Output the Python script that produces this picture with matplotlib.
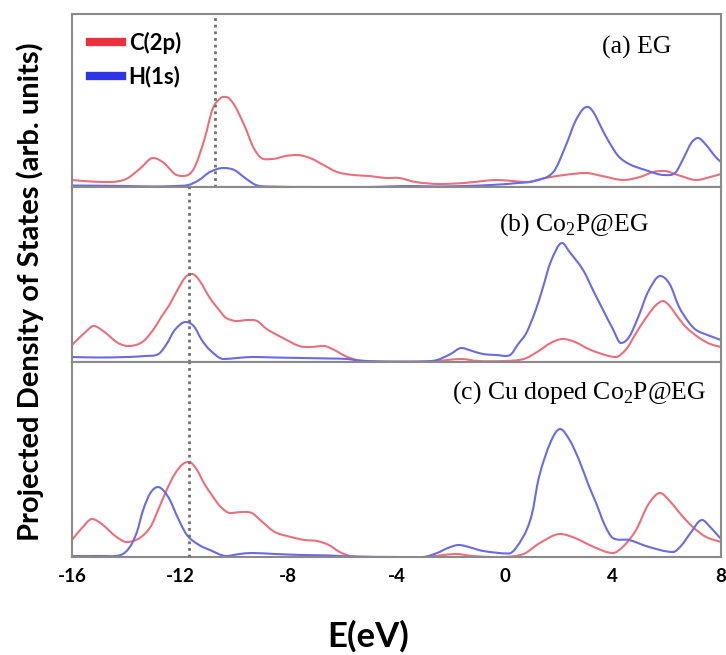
import matplotlib
matplotlib.use("Agg")
import matplotlib.pyplot as plt
from matplotlib.lines import Line2D
from matplotlib.path import Path
from matplotlib.patches import PathPatch

plt.rcParams["mathtext.fontset"] = "custom"
plt.rcParams["mathtext.rm"] = "Liberation Serif"

# ---- data: energy (eV) and projected DOS (arb. units) ----
x_range = (-16, 8)
x_ticks = [-16, -12, -8, -4, 0, 4, 8]

# (a) EG
eg_c_e = [-16, -15.3, -14.6, -14, -13.5, -13, -12.6, -12.2, -11.9, -11.5, -11.1, -10.8, -10.5, -10.3,
          -10.0, -9.6, -9.3, -9.0, -8.6, -8.1, -7.7, -7.2, -6.7, -6.2, -5.6, -5.0, -4.4, -3.9, -3.3,
          -2.4, -1.5, -0.8, -0.3, 0.3, 0.8, 1.5, 2.2, 3.0, 3.6, 4.4, 5.0, 5.5, 5.9, 6.4, 7.1, 7.6, 8]
eg_c_d = [7, 5.5, 5, 8, 18, 29, 24, 13, 11, 18, 48, 78, 89, 90,
          82, 60, 40, 29, 28, 31, 32, 29, 22, 15, 12, 11, 9, 9, 5,
          3, 4, 6, 7, 6, 5, 9, 12, 14, 11, 7, 10, 15, 16, 12, 7, 10, 13]
eg_h_e = [-16, -14, -13, -12.2, -11.7, -11.3, -10.9, -10.4, -10.0, -9.6, -9.2, -8.8, -7, -5, -3.5,
          -2.5, -1.5, -0.5, 0.5, 1.1, 1.8, 2.27, 2.6, 2.9, 3.08, 3.3, 3.6, 3.86, 4.2, 4.6, 5.2, 5.9,
          6.3, 6.6, 6.9, 7.15, 7.45, 7.8, 8]
eg_h_d = [1.5, 1, 0.5, 1, 2, 7, 15, 19, 17, 9, 2, 0.5, 0, 0, 1,
          0.5, 1, 2, 4, 6, 15, 42, 65, 78, 80, 74, 58, 45, 31, 23, 17, 12,
          14, 28, 44, 49, 42, 30, 25]

# (b) Co2P@EG
co_c_e = [-16, -15.5, -15.2, -14.8, -14.3, -13.9, -13.4, -13.0, -12.7, -12.4, -12.1, -11.8, -11.56,
          -11.3, -10.9, -10.5, -10.3, -9.9, -9.5, -9.16, -8.8, -8.2, -7.6, -7.2, -6.7, -6.3, -5.9,
          -5.46, -5, -3, -2.5, -1.6, -1, 0, 0.7, 1.2, 1.7, 2.15, 2.6, 3.1, 3.6, 4.1, 4.5, 4.86, 5.3,
          5.6, 5.86, 6.1, 6.4, 6.7, 7.2, 7.6, 8]
co_c_d = [17, 30, 36, 30, 19, 16, 20, 32, 45, 57, 72, 85, 88,
          82, 64, 50, 44, 41, 42, 41, 33, 24, 16, 15, 16, 12, 6,
          2, 0.5, 0.5, 1, 3, 1, 1, 3, 10, 19, 23, 20, 13, 8, 5, 13, 29, 47,
          57, 61, 56, 45, 35, 24, 18, 15]
co_h_e = [-16, -15, -14, -13.3, -12.8, -12.5, -12.2, -11.8, -11.5, -11.2, -10.9, -10.4, -9.9, -9.3,
          -8.5, -7.5, -6.5, -5.8, -5.4, -4.5, -3, -2.5, -2, -1.6, -1.2, -0.8, -0.3, 0.2, 0.5, 0.8,
          1.15, 1.42, 1.7, 2.12, 2.4, 2.9, 3.3, 3.64, 4.0, 4.3, 4.6, 4.97, 5.3, 5.75, 6.1, 6.45,
          6.8, 7.08, 7.5, 8]
co_h_d = [5, 4.5, 5, 6, 8, 18, 32, 40, 36, 22, 12, 3, 4, 5,
          4.5, 4, 3.5, 3, 1.5, 0.5, 0.5, 2, 8, 14, 11, 8, 7, 7, 18, 29,
          52, 75, 100, 119, 110, 92, 70, 52, 33, 19, 25, 47, 70, 86, 78, 55,
          40, 32, 27, 22]

# (c) Cu doped Co2P@EG
cu_c_e = [-16, -15.6, -15.26, -14.9, -14.4, -13.97, -13.5, -13.1, -12.8, -12.5, -12.2, -11.9, -11.67,
          -11.4, -11.1, -10.78, -10.5, -10.15, -9.7, -9.35, -9.0, -8.5, -7.9, -7.4, -6.94, -6.5,
          -6.1, -5.7, -5, -3, -2.4, -1.8, -1.2, -0.5, 0, 0.7, 1.3, 2.05, 2.6, 3.3, 4.0, 4.4, 4.86,
          5.3, 5.75, 6.1, 6.6, 7.0, 7.45, 8]
cu_c_d = [17, 30, 38, 33, 21, 15, 19, 30, 48, 67, 83, 93, 95,
          88, 73, 60, 50, 44, 45, 44, 36, 25, 20, 17, 16, 12,
          5, 1, 0, 0, 1.5, 3, 1, 0, 0, 3, 14, 23, 19, 10, 4, 11, 27,
          52, 64, 56, 40, 29, 20, 15]
cu_h_e = [-16, -15, -14.2, -13.86, -13.6, -13.37, -13.1, -12.82, -12.6, -12.38, -12.1, -11.75, -11.3,
          -10.9, -10.3, -9.8, -9.35, -8.5, -7.5, -6.5, -5.7, -4, -3, -2.5, -2.1, -1.7, -1.2, -0.8,
          0.15, 0.68, 1.0, 1.27, 1.7, 2.05, 2.4, 2.75, 3.1, 3.38, 3.7, 4.0, 4.6, 5.34, 6.23, 6.55,
          6.82, 7.3, 7.6, 8]
cu_h_d = [1, 1, 2, 10, 25, 47, 64, 70, 66, 57, 40, 22, 12,
          7, 1, 3, 4, 3, 2, 1.5, 0.5, 0, 0, 4, 9, 12, 9, 6,
          3.5, 20, 42, 80, 115, 128, 117, 97, 72, 54, 32, 19, 17, 10, 5, 12,
          22, 37, 30, 18]

panel_titles = ["(a) EG", r"(b) Co$_2$P@EG", r"(c) Cu doped Co$_2$P@EG"]
marker_lines = [-10.71, -11.67, -11.67]
y_tops = [173, 175, 195]
legend_labels = ["C(2p)", "H(1s)"]

# ---- styling ----
red_line = "#e8707c"
blue_line = "#6a6ae2"
red_key = "#e8323e"
blue_key = "#2c36e6"
frame_col = "#8a8a8a"
sans = ["Lato", "DejaVu Sans"]
serif = ["Liberation Serif", "DejaVu Serif"]


def smooth_path(xs, ys):
    """Cubic Bezier path through the points; centred-difference tangents, flat at extrema."""
    n = len(xs)
    h = [xs[k + 1] - xs[k] for k in range(n - 1)]
    d = [(ys[k + 1] - ys[k]) / h[k] for k in range(n - 1)]
    m = [0.0] * n
    m[0], m[-1] = d[0], d[-1]
    for k in range(1, n - 1):
        if d[k - 1] * d[k] < 0:
            m[k] = 0.0
        else:
            m[k] = (ys[k + 1] - ys[k - 1]) / (xs[k + 1] - xs[k - 1])
    verts = [(xs[0], ys[0])]
    codes = [Path.MOVETO]
    for k in range(n - 1):
        t = h[k] / 3
        verts += [(xs[k] + t, ys[k] + m[k] * t),
                  (xs[k + 1] - t, ys[k + 1] - m[k + 1] * t),
                  (xs[k + 1], ys[k + 1])]
        codes += [Path.CURVE4] * 3
    return Path(verts, codes)


def draw_curve(ax, xs, ys, color):
    ax.add_patch(PathPatch(smooth_path(xs, ys), facecolor="none", edgecolor=color,
                           lw=1.5, capstyle="round", joinstyle="round"))


fig = plt.figure(figsize=(7.26, 6.55), dpi=100)
left, width = 72 / 726, 649 / 726
rects = [(left, 1 - 187 / 655, width, 173 / 655),
         (left, 1 - 362 / 655, width, 175 / 655),
         (left, 1 - 557 / 655, width, 195 / 655)]
title_pos = [(0.923, 0.809), (0.889, 0.783), (0.977, 0.841)]

series = [(eg_c_e, eg_c_d, eg_h_e, eg_h_d),
          (co_c_e, co_c_d, co_h_e, co_h_d),
          (cu_c_e, cu_c_d, cu_h_e, cu_h_d)]

axes = []
for i, rect in enumerate(rects):
    ax = fig.add_axes(rect)
    axes.append(ax)
    ce, cd, he, hd = series[i]
    draw_curve(ax, ce, cd, red_line)
    draw_curve(ax, he, hd, blue_line)
    ax.axvline(marker_lines[i], color="#707070", lw=2.0, linestyle=(0, (1, 1.4)), zorder=3)
    ax.set_xlim(*x_range)
    ax.set_ylim(0, y_tops[i])
    ax.set_yticks([])
    ax.set_xticks(x_ticks)
    ax.tick_params(axis="x", length=0)
    for s in ax.spines.values():
        s.set_color(frame_col)
        s.set_linewidth(1.5)
    ax.text(title_pos[i][0], title_pos[i][1], panel_titles[i], transform=ax.transAxes,
            ha="right", va="center", fontsize=18.5, family=serif)
    if i < 2:
        ax.set_xticklabels([])
    else:
        ax.set_xticklabels([str(t) for t in x_ticks], fontsize=13.5, fontweight="bold",
                           family=sans)
        ax.tick_params(axis="x", pad=8)

handles = [Line2D([], [], color=red_key, lw=6), Line2D([], [], color=blue_key, lw=6)]
axes[0].legend(handles, legend_labels, loc="upper left", bbox_to_anchor=(0.0, 1.0),
               frameon=False, handlelength=1.45, handletextpad=0.3, labelspacing=0.55,
               prop={"family": sans, "weight": "bold", "size": 16},
               borderaxespad=0.4)

fig.text(30 / 726, 1 - 292 / 655, "Projected Density of States (arb. units)", rotation=90,
         ha="center", va="center", fontsize=21, fontweight="bold", family=sans)
fig.text(368 / 726, 1 - 636 / 655, "E(eV)", ha="center", va="center", fontsize=25,
         fontweight="bold", family=sans)

fig.savefig("out.png", dpi=100)
